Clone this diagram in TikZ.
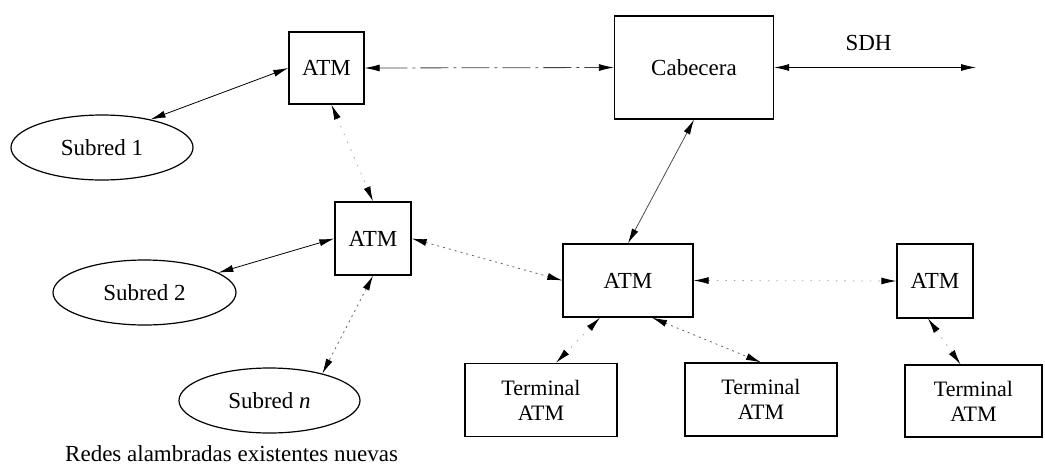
\documentclass[tikz,border=0pt]{standalone}
\usepackage{fontspec}
\setmainfont{Liberation Serif}
\usetikzlibrary{shapes.geometric,arrows.meta,calc}
\newcommand\mainsz{\fontsize{23}{27}\selectfont}
\newcommand\termsz{\fontsize{22}{25}\selectfont}
\tikzset{
  box/.style={draw, line width=1.3pt, inner sep=0pt, font=\mainsz},
  termbox/.style={box, font=\termsz, align=center, minimum width=152pt, minimum height=73pt},
  oval/.style={draw, ellipse, line width=1.2pt, inner sep=0pt, font=\mainsz, minimum width=182pt, minimum height=65pt},
  link/.style={<->, line width=0.8pt, >={Latex[length=15pt,width=7pt,color=black]}},
  dotlink/.style={link, draw=black!60, dash pattern=on 2pt off 4pt},
  faintlink/.style={link, draw=black!35, dash pattern=on 1.5pt off 7pt},
  dashdotlink/.style={link, draw=black!75, dash pattern=on 28pt off 5pt on 3pt off 5pt}
}
\begin{document}
\begin{tikzpicture}[x=1pt,y=-1pt]
\useasboundingbox (0,0) rectangle (1045,464);
% nodes
\node[box, minimum width=75pt, minimum height=72pt] (atmA) at (326.5,68) {ATM};
\node[box, minimum width=159pt, minimum height=103pt] (cab) at (694,67.5) {Cabecera};
\node[box, minimum width=76pt, minimum height=73pt] (atmB) at (373,238.5) {ATM};
\node[box, minimum width=130pt, minimum height=73pt] (atmC) at (628,280.5) {ATM};
\node[box, minimum width=76pt, minimum height=74pt] (atmD) at (935,281) {ATM};
\node[termbox] (tA) at (541,400) {Terminal\\ATM};
\node[termbox] (tB) at (761,399.5) {Terminal\\ATM};
\node[termbox, minimum width=137pt, minimum height=72pt] (tC) at (973.5,401) {Terminal\\ATM};
\node[oval] (sA) at (102,147.5) {Subred 1};
\node[oval, minimum width=183pt] (sB) at (144.5,292.5) {Subred 2};
\node[oval, minimum width=181pt] (sN) at (269.5,400.5) {Subred \textit{n}};
\node[font=\mainsz, inner sep=0pt] (sdh) at (868.5,43) {SDH};
\node[font=\mainsz, inner sep=0pt, anchor=base west] (cap) at (65,461) {Redes alambradas existentes nuevas};
\coordinate (sdhend) at (976,67.5);
% connectors
\draw[link] (sA.30) -- (atmA.west);
\draw[link] (sB.15) -- (atmB.west);
\draw[dotlink] (atmB.south) -- (sN.27);
\draw[dashdotlink] (atmA.east) -- (cab.west);
\draw[link] (cab.east) -- (sdhend);
\draw[faintlink] ($(atmA.south)+(5,0)$) -- (atmB.north);
\draw[link, draw=black!70] (cab.south) -- (atmC.north);
\draw[dotlink] (atmB.east) -- (atmC.west);
\draw[faintlink] (atmC.east) -- (atmD.west);
\draw[faintlink] ($(atmC.south)+(-28,0)$) -- ($(tA.north)+(15,0)$);
\draw[dotlink] ($(atmC.south)+(24,0)$) -- (tB.north);
\draw[faintlink] ($(atmD.south)+(-7,0)$) -- ($(tC.north)+(-13,0)$);
\end{tikzpicture}
\end{document}
